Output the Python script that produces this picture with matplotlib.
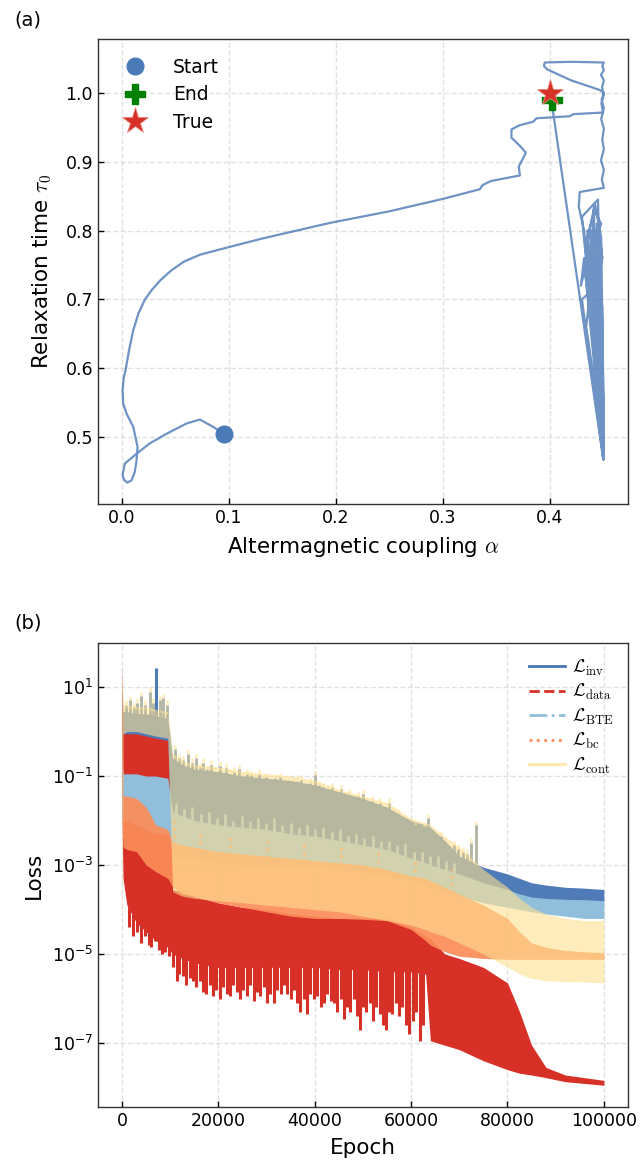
import numpy as np
import matplotlib
matplotlib.use('Agg')
import matplotlib.pyplot as plt
from matplotlib.lines import Line2D
from matplotlib.ticker import FixedLocator, LogFormatterSciNotation, NullLocator

plt.rcParams['font.family'] = ['DejaVu Sans']
plt.rcParams['mathtext.fontset'] = 'cm'

# ---------------- Panel (a) data: parameter trajectory ----------------
traj_alpha = [
    0.0953, 0.0853, 0.0729, 0.0604, 0.0417, 0.026, 0.0137, 0.0028, 0.0006, 0.0019,
    0.005, 0.009, 0.012, 0.0137, 0.0146, 0.0106, 0.0044, 0.0012, 0.0006, 0.0016,
    0.0037, 0.0065, 0.0106, 0.0155, 0.0215, 0.028, 0.036, 0.046, 0.058, 0.073,
    0.100, 0.130, 0.166, 0.194, 0.250, 0.300, 0.3346, 0.337, 0.345, 0.372,
    0.371, 0.3776, 0.372, 0.364, 0.3642, 0.372, 0.3844, 0.3875, 0.4187, 0.4218,
    0.4498,
    # wall, climbing
    0.4482, 0.4505, 0.4488, 0.4505, 0.4478, 0.4505, 0.4490, 0.4505,
    # top loop
    0.4200, 0.3953, 0.3945, 0.3975, 0.4200, 0.4374, 0.4467, 0.4505,
    # wall, descending
    0.4484, 0.4505, 0.4480, 0.4505, 0.4490, 0.4505, 0.4478, 0.4505, 0.4486, 0.4505,
    # wedge oscillations
    0.4280, 0.4270, 0.4320, 0.4498,
    0.4400, 0.4330, 0.4420, 0.4503,
    0.4450, 0.4300, 0.4350, 0.4500,
    0.4380, 0.4460, 0.4400, 0.4505,
    0.4320, 0.4290, 0.4420, 0.4500,
    0.4470, 0.4360, 0.4340, 0.4502,
    0.4410, 0.4480, 0.4370, 0.4500,
    0.4300, 0.4440, 0.4490, 0.4505,
    0.4460, 0.4350, 0.4390, 0.4500,
    0.4430, 0.4380, 0.4470, 0.4502,
    0.4400, 0.4490, 0.4450, 0.4500,
    0.4350, 0.4420, 0.4480, 0.4505,
    0.4460, 0.4400, 0.4330, 0.4500,
    0.4440, 0.4490, 0.4410, 0.4503,
    0.4420, 0.4480, 0.4505, 0.4470, 0.4500,
    # final jump to the end point
    0.4016,
]
traj_tau = [
    0.5048, 0.515, 0.5257, 0.520, 0.505, 0.491, 0.476, 0.462, 0.4457, 0.4385,
    0.434, 0.4375, 0.4496, 0.4666, 0.486, 0.515, 0.534, 0.549, 0.568, 0.585,
    0.600, 0.625, 0.6555, 0.680, 0.700, 0.714, 0.728, 0.742, 0.755, 0.765,
    0.776, 0.788, 0.801, 0.811, 0.828, 0.846, 0.860, 0.866, 0.872, 0.880,
    0.893, 0.913, 0.923, 0.935, 0.947, 0.953, 0.958, 0.963, 0.966, 0.969,
    0.9714,
    0.985, 0.997, 1.008, 1.018, 1.026, 1.033, 1.039, 1.044,
    1.045, 1.044, 1.039, 1.034, 1.018, 1.009, 1.004, 1.000,
    0.990, 0.978, 0.962, 0.948, 0.932, 0.918, 0.902, 0.888, 0.874, 0.862,
    0.856, 0.835, 0.800, 0.470,
    0.820, 0.780, 0.760, 0.475,
    0.845, 0.820, 0.740, 0.468,
    0.800, 0.780, 0.700, 0.480,
    0.760, 0.720, 0.800, 0.471,
    0.740, 0.690, 0.660, 0.490,
    0.830, 0.810, 0.760, 0.469,
    0.700, 0.720, 0.690, 0.500,
    0.800, 0.800, 0.740, 0.472,
    0.770, 0.700, 0.680, 0.478,
    0.720, 0.760, 0.820, 0.470,
    0.780, 0.840, 0.790, 0.485,
    0.700, 0.660, 0.740, 0.469,
    0.810, 0.760, 0.710, 0.474,
    0.680, 0.650, 0.520, 0.620, 0.467,
    0.9874,
]
start_pt = (0.0953, 0.5048)
end_pt = (0.4016, 0.9900)
true_pt = (0.40, 1.00)

# ---------------- Panel (b) data: loss histories (log10 envelopes) ----------------
epochs = [0, 200, 1000, 3000, 5000, 7000, 9500, 10500, 12500, 15000,
          20000, 25000, 30000, 35000, 40000, 45000, 50000, 55000, 60000, 63000,
          64000, 67000, 70000, 75000, 80000, 82500, 85000, 88000, 92000, 96000, 100000]

inv_hi = [0.9, 0.45, 0.45, 0.4, 0.4, 0.35, 0.3, -0.6, -0.75, -0.85,
          -0.9, -1.0, -1.05, -1.1, -1.2, -1.35, -1.5, -1.7, -2.0, -2.1,
          -2.15, -2.45, -2.8, -3.05, -3.2, -3.3, -3.4, -3.45, -3.5, -3.52, -3.55]
inv_lo = [-1.5, -1.5, -1.5, -1.5, -1.5, -1.5, -1.5, -2.5, -2.5, -2.5,
          -2.6, -2.6, -2.7, -2.7, -2.8, -2.8, -2.9, -3.0, -3.1, -3.2,
          -3.2, -3.3, -3.4, -3.6, -3.7, -3.75, -3.78, -3.79, -3.8, -3.8, -3.81]

data_hi = [1.5, -0.05, -0.05, -0.05, -0.1, -0.15, -0.2, -3.55, -3.6, -3.7,
           -3.85, -3.95, -4.0, -4.1, -4.15, -4.2, -4.2, -4.2, -4.4, -4.6,
           -4.65, -5.0, -5.1, -5.3, -5.65, -6.3, -7.05, -7.55, -7.72, -7.78, -7.84]
data_lo = [-2.0, -3.3, -3.9, -4.3, -4.5, -4.7, -4.85, -5.0, -5.1, -5.2,
           -5.3, -5.3, -5.3, -5.3, -5.3, -5.35, -5.35, -5.4, -5.4, -5.45,
           -6.95, -7.05, -7.15, -7.4, -7.6, -7.68, -7.72, -7.78, -7.87, -7.91, -7.95]

bte_hi = [-0.5, -0.95, -0.95, -0.95, -1.0, -1.0, -1.05, -1.8, -1.9, -2.0,
          -2.1, -2.15, -2.2, -2.3, -2.35, -2.45, -2.55, -2.65, -2.85, -2.95,
          -3.0, -3.1, -3.2, -3.4, -3.55, -3.65, -3.72, -3.75, -3.77, -3.78, -3.8]
bte_lo = [-2.0, -2.0, -2.0, -2.1, -2.2, -2.3, -2.3, -2.8, -2.85, -2.9,
          -2.95, -3.0, -3.0, -3.0, -3.05, -3.1, -3.15, -3.25, -3.35, -3.45,
          -3.5, -3.6, -3.7, -3.85, -3.95, -4.0, -4.05, -4.1, -4.15, -4.2, -4.2]

bc_hi = [1.2, -1.45, -1.45, -1.5, -1.7, -2.1, -2.2, -2.5, -2.55, -2.6,
         -2.7, -2.75, -2.8, -2.85, -2.9, -2.95, -3.0, -3.1, -3.25, -3.3,
         -3.35, -3.5, -3.65, -3.9, -4.2, -4.5, -4.75, -4.85, -4.92, -4.95, -4.97]
bc_lo = [-2.0, -2.6, -2.65, -2.7, -3.0, -3.15, -3.3, -3.5, -3.65, -3.7,
         -3.85, -3.95, -4.05, -4.15, -4.2, -4.2, -4.22, -4.25, -4.45, -4.7,
         -4.8, -4.95, -5.05, -5.1, -5.12, -5.12, -5.12, -5.12, -5.12, -5.12, -5.12]

cont_hi = [1.3, 0.6, 0.6, 0.55, 0.55, 0.5, 0.45, -0.5, -0.65, -0.75,
           -0.8, -0.9, -0.95, -1.0, -1.1, -1.3, -1.45, -1.6, -1.95, -2.05,
           -2.1, -2.35, -2.6, -3.1, -3.5, -3.75, -3.95, -4.1, -4.2, -4.25, -4.25]
cont_lo = [-5.2, -0.05, 0.0, 0.0, -0.05, -0.1, -0.15, -3.6, -3.7, -3.75,
           -3.8, -3.85, -3.9, -3.95, -4.0, -4.05, -4.15, -4.25, -4.35, -4.45,
           -4.5, -4.6, -4.75, -5.0, -5.3, -5.45, -5.55, -5.6, -5.62, -5.63, -5.65]

# spikes: epoch and log10 peak
top_spk_E = [800, 1600, 2400, 3200, 3900, 4700, 5700, 6400, 7800, 8600,
             9300, 11000, 11800, 12600, 13700, 14500, 15300, 16100, 16900, 17700,
             18500, 19300, 20400, 21600, 22500, 23300, 24200, 25100, 26000, 26700,
             27600, 28500, 29900, 30800, 31700, 32700, 33600, 34500, 35400, 36300,
             37200, 38100, 39000, 40000, 40900, 41800, 42700, 43600, 44500, 45400,
             46300, 47200, 48100, 49000, 50000, 50900, 51800, 52700, 53600, 54500,
             55400, 56300, 57200, 58100, 59000, 59900, 60800, 61700, 62600, 63500,
             64400, 65300, 66200, 67100, 68000, 68900, 69800, 70700, 71600, 72500,
             73500]
top_spk_L = [0.7, 0.8, 0.65, 0.75, 0.9, 0.7, 1.0, 0.75, 0.8, 0.85,
             0.7, -0.3, -0.5, -0.55, -0.4, -0.6, -0.5, -0.7, -0.6, -0.75,
             -0.65, -0.8, -0.67, -0.71, -0.85, -0.8, -0.75, -0.9, -0.85, -0.88,
             -0.95, -0.85, -0.93, -1.0, -0.95, -0.93, -1.05, -1.0, -1.1, -1.0,
             -0.98, -1.1, -1.05, -0.88, -1.1, -1.15, -1.2, -1.15, -1.3, -1.2,
             -1.35, -1.3, -1.4, -1.35, -1.3, -1.5, -1.45, -1.55, -1.5, -1.6,
             -1.5, -1.7, -1.75, -1.9, -1.95, -2.0, -2.1, -2.05, -2.15, -1.85,
             -2.2, -2.3, -2.25, -2.4, -2.5, -2.45, -2.55, -2.6, -2.65, -2.4,
             -2.0]
inv_tall_E = [7100]
inv_tall_L = [1.43]

bte_spk_E = [11200, 12900, 14600, 16300, 18000, 19700, 21400, 23100, 24800, 26500,
             28200, 29900, 31600, 33300, 35000, 36700, 38400, 40100, 41800, 43500,
             45200, 46900, 48600, 50300, 52000, 53700, 55400, 57100, 58800, 60500,
             62200, 63900, 65600, 67300, 69000]
bte_spk_L = [-1.6, -1.75, -1.7, -1.85, -1.8, -1.95, -1.85, -2.0, -1.9, -2.0,
             -1.95, -2.05, -1.95, -2.1, -2.05, -2.15, -2.1, -2.2, -2.15, -2.25,
             -2.2, -2.35, -2.3, -2.4, -2.35, -2.45, -2.45, -2.55, -2.5, -2.7,
             -2.7, -2.8, -2.8, -2.9, -2.95]

bc_spk_E = [10800, 16200, 22500, 30100, 37800, 45500, 53100, 60800, 68400]
bc_spk_L = [-2.0, -2.2, -2.3, -2.4, -2.5, -2.6, -2.7, -2.9, -3.1]

data_spk_E = [1500, 2300, 3100, 4000, 4800, 5500, 6100, 6900, 7600, 8300,
              9000, 9800, 10600, 11300, 11900, 12600, 13300, 14000, 14700, 15400,
              16100, 16800, 17500, 18200, 18900, 19600, 20300, 21000, 21700, 22400,
              23100, 23800, 24500, 25200, 25900, 26600, 27300, 28000, 28700, 29400,
              30100, 30800, 31500, 32200, 32900, 33600, 34300, 35000, 35700, 36400,
              37000, 37700, 38400, 39100, 39800, 40500, 41200, 41900, 42600, 43300,
              44000, 44700, 45400, 46000, 46700, 47400, 48100, 48800, 49300, 50000,
              50700, 51400, 52100, 52800, 53500, 54200, 54700, 55400, 56100, 56800,
              57500, 58200, 58900, 59600, 60300, 61000, 61800, 62500]
data_spk_L = [-4.4, -4.6, -4.5, -4.75, -4.6, -4.8, -4.85, -4.7, -4.9, -5.0,
              -4.95, -5.05, -5.3, -5.6, -5.45, -5.5, -5.7, -5.55, -5.6, -5.75,
              -5.6, -5.85, -5.9, -5.7, -5.95, -5.8, -6.0, -5.75, -5.9, -5.95,
              -5.7, -5.85, -6.0, -5.8, -5.95, -5.7, -6.05, -5.85, -5.95, -5.75,
              -6.1, -5.9, -6.1, -5.8, -5.9, -5.7, -5.9, -6.0, -5.8, -6.1,
              -6.3, -6.0, -6.35, -5.9, -6.0, -5.95, -6.2, -6.1, -5.9, -6.05,
              -6.1, -6.3, -6.0, -6.45, -6.2, -6.3, -6.0, -6.4, -6.7, -6.2,
              -6.3, -6.1, -6.5, -6.2, -6.35, -6.6, -6.7, -6.3, -6.35, -6.1,
              -6.4, -6.2, -6.6, -6.8, -6.5, -6.3, -6.95, -6.6]

C_INV, C_DATA, C_BTE, C_BC, C_CONT = '#4575b4', '#d73027', '#91bfdb', '#fc8d59', '#fee090'

fig = plt.figure(figsize=(6.42, 11.7), dpi=100)

GRID = dict(color='#d9d9d9', linestyle='--', linewidth=1.0, alpha=0.8)

def style_axes(ax):
    for s in ax.spines.values():
        s.set_color('#333333')
        s.set_linewidth(1.0)
    ax.tick_params(direction='in', length=4, width=1, labelsize=12.5, colors='black')
    ax.grid(True, **GRID)
    ax.set_axisbelow(True)

# ---------------- Panel (a) ----------------
ax1 = fig.add_axes([0.1526, 0.5692, 0.8255, 0.3974])
style_axes(ax1)
ax1.plot(traj_alpha, traj_tau, color=C_INV, alpha=0.78, lw=1.6, zorder=2)
ax1.plot(*start_pt, 'o', color='#4a7ab8', ms=12, zorder=4, label='Start')
ax1.plot(*end_pt, 'P', color='green', ms=15, zorder=4, label='End')
ax1.plot(*true_pt, '*', color=C_DATA, ms=20, zorder=5, label='True',
         markeredgecolor='#e88a80', markeredgewidth=0.6)
ax1.set_xlim(-0.0224, 0.473)
ax1.set_ylim(0.403, 1.078)
ax1.set_xticks([0.0, 0.1, 0.2, 0.3, 0.4])
ax1.set_yticks([0.5, 0.6, 0.7, 0.8, 0.9, 1.0])
ax1.set_xlabel(r'Altermagnetic coupling $\alpha$', fontsize=15.5, labelpad=6)
ax1.set_ylabel(r'Relaxation time $\tau_0$', fontsize=15.5, labelpad=8)
ax1.legend(loc='upper left', frameon=False, fontsize=13.5, handletextpad=1.0,
           labelspacing=0.45, borderaxespad=0.6)

# ---------------- Panel (b) ----------------
ax2 = fig.add_axes([0.1526, 0.0538, 0.8255, 0.3966])
style_axes(ax2)
ax2.set_yscale('log')
E = np.array(epochs)

def band(hi, lo, color, alpha, z):
    ax2.fill_between(E, 10.0 ** np.array(lo), 10.0 ** np.array(hi), color=color,
                     alpha=alpha, linewidth=0, zorder=z)

def spikes_up(xs, peaks, base, color, alpha, z, lw=1.8, ls='-'):
    lows = 10.0 ** (np.interp(xs, E, base) - 0.05)
    ax2.vlines(xs, lows, 10.0 ** np.array(peaks), color=color, alpha=alpha,
               lw=lw, zorder=z, linestyles=ls)

# L_inv
band(inv_hi, inv_lo, C_INV, 0.95, 2)
spikes_up(top_spk_E, np.array(top_spk_L) - 0.1, inv_hi, C_INV, 0.95, 2)
spikes_up(inv_tall_E, inv_tall_L, inv_hi, C_INV, 0.95, 2, lw=2.2)
# L_data
band(data_hi, data_lo, C_DATA, 1.0, 3)
ax2.vlines(data_spk_E, 10.0 ** np.array(data_spk_L),
           10.0 ** (np.interp(data_spk_E, E, data_lo) + 0.05),
           color=C_DATA, lw=2.2, zorder=3)
# L_BTE
band(bte_hi, bte_lo, C_BTE, 1.0, 4)
spikes_up(bte_spk_E, bte_spk_L, bte_hi, C_BTE, 1.0, 4, lw=2.0)
# L_bc
band(bc_hi, bc_lo, C_BC, 0.92, 5)
spikes_up(bc_spk_E, bc_spk_L, bc_hi, C_BC, 0.9, 5, lw=2.0, ls=':')
# L_cont
band(cont_hi, cont_lo, C_CONT, 0.6, 6)
spikes_up(top_spk_E, top_spk_L, cont_hi, C_CONT, 0.6, 6)

ax2.set_xlim(-5000, 105000)
ax2.set_ylim(10 ** -8.44, 10 ** 1.99)
ax2.set_xticks([0, 20000, 40000, 60000, 80000, 100000])
ax2.yaxis.set_major_locator(FixedLocator([1e1, 1e-1, 1e-3, 1e-5, 1e-7]))
ax2.yaxis.set_major_formatter(LogFormatterSciNotation())
ax2.yaxis.set_minor_locator(NullLocator())
ax2.set_xlabel('Epoch', fontsize=15.5, labelpad=6)
ax2.set_ylabel('Loss', fontsize=15.5, labelpad=6)

handles = [
    Line2D([], [], color=C_INV, lw=2, ls='-'),
    Line2D([], [], color=C_DATA, lw=2, ls='--'),
    Line2D([], [], color=C_BTE, lw=2, ls='-.'),
    Line2D([], [], color=C_BC, lw=2, ls=':'),
    Line2D([], [], color=C_CONT, lw=2, ls='-', alpha=0.8),
]
labels = [r'$\mathcal{L}_{\rm inv}$', r'$\mathcal{L}_{\rm data}$', r'$\mathcal{L}_{\rm BTE}$',
          r'$\mathcal{L}_{\rm bc}$', r'$\mathcal{L}_{\rm cont}$']
ax2.legend(handles, labels, loc='upper right', frameon=False, fontsize=13,
           handlelength=2.0, handletextpad=0.4, labelspacing=0.25, borderaxespad=0.4)

fig.text(0.022, 1 - 20 / 1170, '(a)', fontsize=14, va='center', ha='left')
fig.text(0.022, 1 - 623 / 1170, '(b)', fontsize=14, va='center', ha='left')

fig.savefig('out.png', dpi=100)
